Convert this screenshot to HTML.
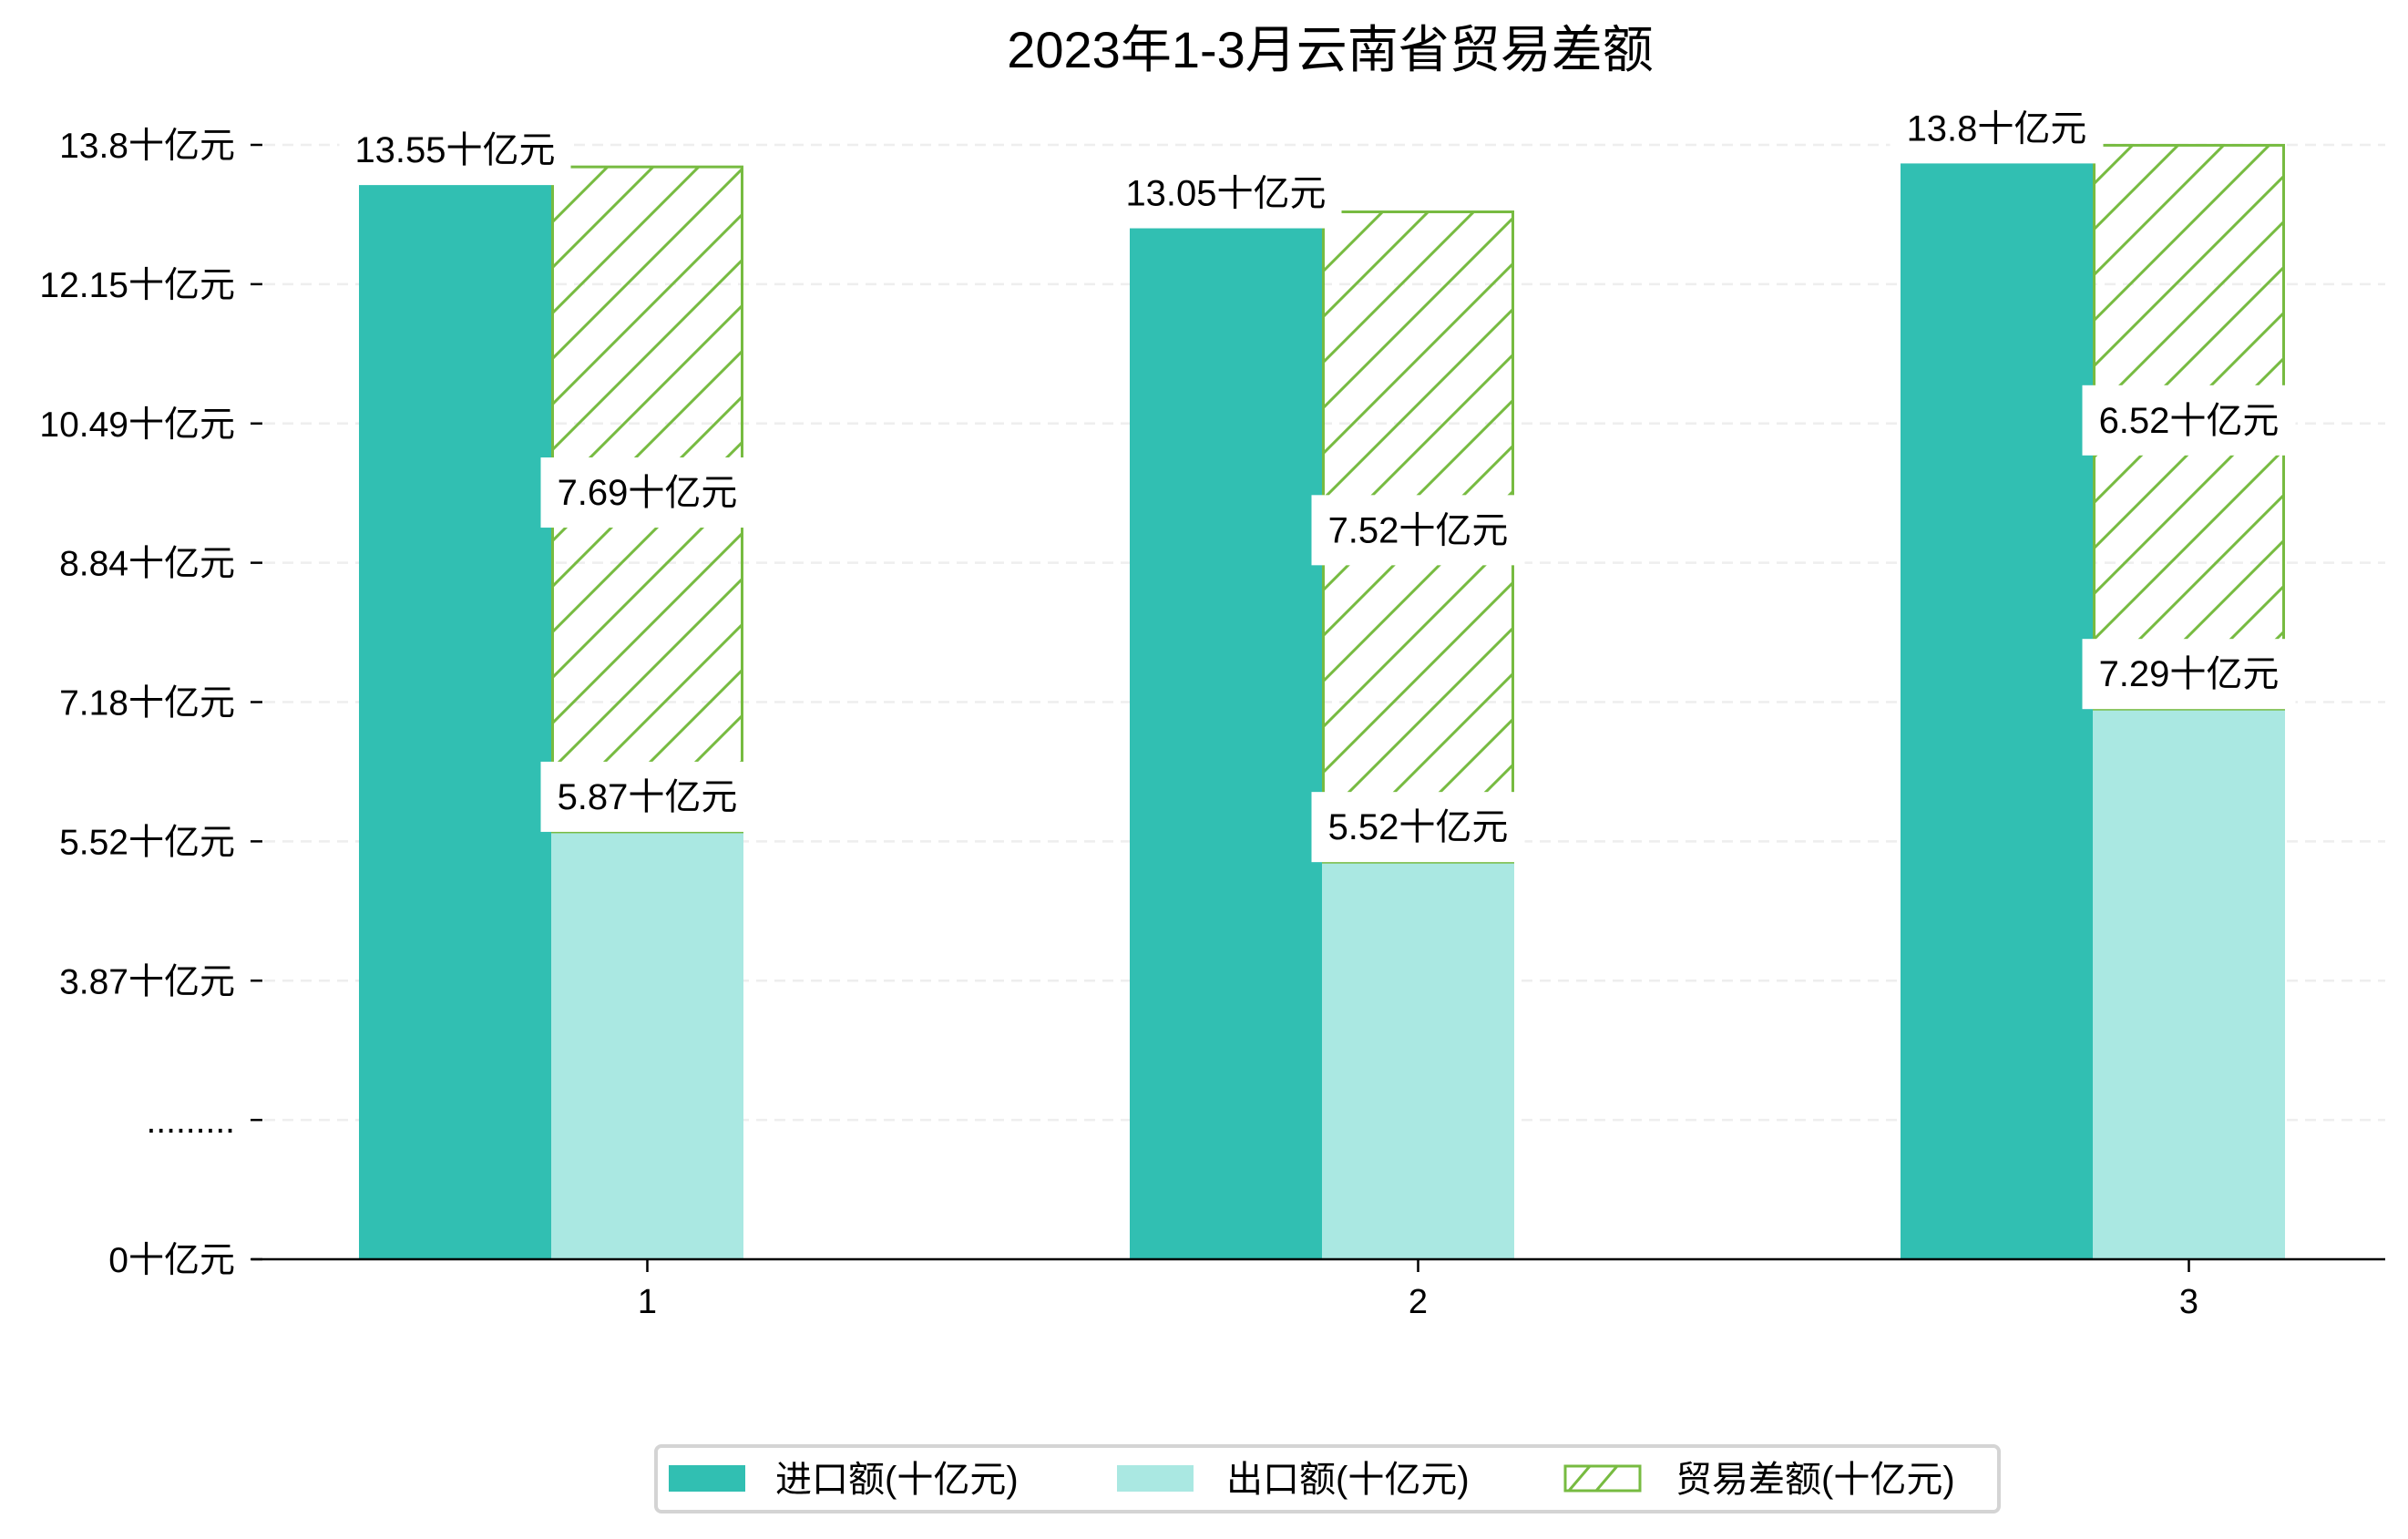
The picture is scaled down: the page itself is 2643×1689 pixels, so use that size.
<!DOCTYPE html>
<html><head><meta charset="utf-8">
<style>
html,body{margin:0;padding:0;background:#fff;}
svg{display:block;}
text{font-family:"Liberation Sans","WenQuanYi Zen Hei","Noto Sans CJK SC",sans-serif;fill:#000;}
</style></head>
<body>
<svg id="chart" width="2643" height="1689" viewBox="0 0 2643 1689" xmlns="http://www.w3.org/2000/svg">
<defs>
<pattern id="hatch" patternUnits="userSpaceOnUse" width="50" height="50">
<path d="M-5,5 L5,-5 M0,50 L50,0 M45,55 L55,45" stroke="#77BB41" stroke-width="3"/>
</pattern>
</defs>
<text x="1460" y="74" font-size="56" text-anchor="middle">2023年1-3月云南省贸易差额</text>
<g id="grid"></g>
<g id="bars"></g>
<g id="labels"></g>
<line x1="276" y1="1382" x2="2618" y2="1382" stroke="#000" stroke-width="2.5"/>
<g>
<rect x="720" y="1587" width="1474" height="72" rx="6" fill="#fff" stroke="#d4d4d4" stroke-width="4"/>
<g>
<rect x="734" y="1608" width="84" height="29" fill="#31BFB2"/>
<text x="851" y="1637" font-size="40">进口额(十亿元)</text></g>
<g>
<rect x="1226" y="1608" width="84" height="29" fill="#AAE8E2"/>
<text x="1346" y="1637" font-size="40">出口额(十亿元)</text></g>
<g>
<rect x="1718" y="1609" width="82" height="27" fill="#fff" stroke="#77BB41" stroke-width="3"/>
<path d="M1722,1636 L1745,1609 M1752,1636 L1775,1609" stroke="#77BB41" stroke-width="3"/>
<text x="1839" y="1637" font-size="40">贸易差额(十亿元)</text></g>
</g>
</svg>
<script>
const months = ['1','2','3'];
const imports = [13.55, 13.05, 13.8];
const exports = [5.87, 5.52, 7.29];
const balance = [7.69, 7.52, 6.52];
const yTickLabels = ['0十亿元','.........','3.87十亿元','5.52十亿元','7.18十亿元','8.84十亿元','10.49十亿元','12.15十亿元','13.8十亿元'];

const NS='http://www.w3.org/2000/svg';
const axisBottom=1382, axisTop=159;
const pxPerUnit=94.9, vMin=(1470-axisBottom)/pxPerUnit;
function y(v){return axisBottom-(v-vMin)*pxPerUnit;}
function xGroup(i){return 605+i*846;}
const bw=211, importShift=17;
function mk(tag,attrs,parent){const e=document.createElementNS(NS,tag);for(const k in attrs)e.setAttribute(k,attrs[k]);parent.appendChild(e);return e;}
const grid=document.getElementById('grid'),bars=document.getElementById('bars'),labels=document.getElementById('labels');
const step=(axisBottom-axisTop)/(yTickLabels.length-1);
yTickLabels.forEach((t,i)=>{
  const yy=axisBottom-i*step;
  if(i>0){const g=mk('line',{x1:290,x2:2618,y1:yy,y2:yy,stroke:'#eeeeee','stroke-width':2.5,'stroke-dasharray':'12,8'},grid);
  
  }
  const tk=mk('line',{x1:275,x2:288,y1:yy,y2:yy,stroke:'#000','stroke-width':2.5},grid);
  
  
  const tx=mk('text',{x:258,y:yy+14,'font-size':39,'text-anchor':'end'},grid);
  tx.textContent=t;
  
  
});
function label(txt,cx,cy,parent){
  const asc=txt.replace(/[^\x00-\x7f]/g,'').length;
  const w=asc*20+(txt.length-asc)*40;
  const r=mk('rect',{x:cx-w/2-17,y:cy-38,width:w+34,height:77,fill:'#fff'},parent);
  
  
  const t=mk('text',{x:cx,y:cy+14,'font-size':40,'text-anchor':'middle'},parent);
  t.textContent=txt;
  
  
}
months.forEach((m,i)=>{
  const xs=xGroup(i);
  const ti=y(imports[i])+importShift;
  const b1=mk('rect',{x:xs-bw,y:ti,width:bw,height:axisBottom-ti,fill:'#31BFB2'},bars);
  
  
  const te=y(exports[i]);
  const b2=mk('rect',{x:xs,y:te,width:bw,height:axisBottom-te,fill:'#AAE8E2'},bars);
  
  
  const tb=y(exports[i]+balance[i]);
  const b3=mk('rect',{x:xs+1.5,y:tb,width:bw-3,height:te-tb,fill:'url(#hatch)',stroke:'#77BB41','stroke-width':3},bars);
  
  
  label(imports[i]+'十亿元',xs-bw/2,ti-37,labels);
  label(exports[i]+'十亿元',xs+bw/2,te-39,labels);
  label(balance[i]+'十亿元',xs+bw/2,(tb+te)/2-8,labels);
  const xt=mk('line',{x1:xs+bw/2,x2:xs+bw/2,y1:axisBottom,y2:axisBottom+14,stroke:'#000','stroke-width':2.5},labels);
  
  
  const xl=mk('text',{x:xs+bw/2,y:1441,'font-size':38,'text-anchor':'middle'},labels);
  xl.textContent=m;
  
  
});
</script>
</body></html>
